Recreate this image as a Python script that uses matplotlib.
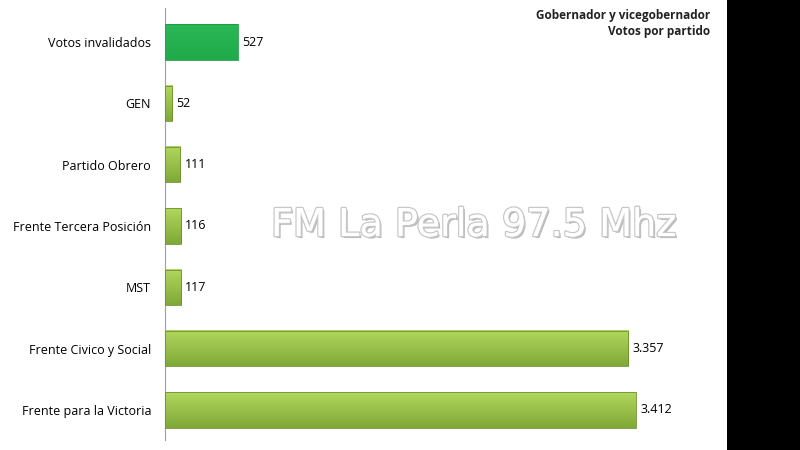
import matplotlib.pyplot as plt
import matplotlib.patheffects as pe
import numpy as np
from matplotlib.patches import Rectangle

# datos (de abajo hacia arriba)
partidos = ["Frente para la Victoria", "Frente Civico y Social", "MST",
            "Frente Tercera Posición", "Partido Obrero", "GEN", "Votos invalidados"]
votos = [3412, 3357, 117, 116, 111, 52, 527]
etiquetas = ["3.412", "3.357", "117", "116", "111", "52", "527"]

plt.rcParams['font.family'] = ['Open Sans', 'DejaVu Sans']

fig = plt.figure(figsize=(8, 4.5), dpi=100)
fig.patch.set_facecolor('white')
# franja negra a la derecha
fig.patches.append(Rectangle((727/800, 0), 73/800, 1, transform=fig.transFigure,
                             facecolor='black', edgecolor='none', zorder=0))

ax = fig.add_axes([165/800, 10/450, (727-165)/800, (442-10)/450])
ax.set_facecolor('none')

y = np.arange(len(partidos))
alto = 0.58
barras = ax.barh(y, votos, height=alto, color='none', edgecolor='none')

# gradiente en cada barra
for i, b in enumerate(barras):
    x0, y0 = b.get_x(), b.get_y()
    w, h = b.get_width(), b.get_height()
    if partidos[i] == "Votos invalidados":
        c_top, c_bot = np.array([0x2c, 0xb8, 0x56]), np.array([0x20, 0xaa, 0x4a])
        borde = '#1c9a44'
    else:
        c_top, c_bot = np.array([0xb0, 0xd8, 0x5e]), np.array([0x80, 0xa8, 0x36])
        borde = '#6f8f30'
    t = np.linspace(0, 1, 50)[:, None]
    grad = (c_bot * (1 - t) + c_top * t) / 255.0
    img = np.repeat(grad[:, None, :], 2, axis=1)
    ax.imshow(img, extent=[x0, x0 + w, y0, y0 + h], origin='lower',
              aspect='auto', zorder=2, interpolation='bilinear')
    ax.add_patch(Rectangle((x0, y0), w, h, facecolor='none',
                           edgecolor=borde, linewidth=0.6, zorder=3))
    ax.text(x0 + w + 30, y[i], etiquetas[i], va='center', ha='left',
            fontsize=9, color='black')

ax.set_xlim(0, 4072)
ax.set_ylim(-0.49, 6.555)
ax.set_yticks(y)
ax.set_yticklabels(partidos, fontsize=9)
ax.tick_params(axis='y', length=0, pad=10)
ax.set_xticks([])
for s in ['top', 'right', 'bottom']:
    ax.spines[s].set_visible(False)
ax.spines['left'].set_color('#a0a0a0')

fig.text(710/800, 1 - 15/450, "Gobernador y vicegobernador", ha='right', va='center',
         fontsize=8.5, fontweight='bold', color='#222222')
fig.text(710/800, 1 - 31/450, "Votos por partido", ha='right', va='center',
         fontsize=8.5, fontweight='bold', color='#222222')

fig.text(474/800, 1 - 226/450, "FM La Perla 97.5 Mhz", ha='center', va='center',
         fontsize=27.5, color='white', family='DejaVu Sans',
         path_effects=[pe.withSimplePatchShadow(offset=(1.5, -1.5), shadow_rgbFace='#808080', alpha=0.55),
                       pe.withStroke(linewidth=2, foreground='#c8c8c8'),
                       pe.Normal()])

fig.savefig('out.png', dpi=100)
